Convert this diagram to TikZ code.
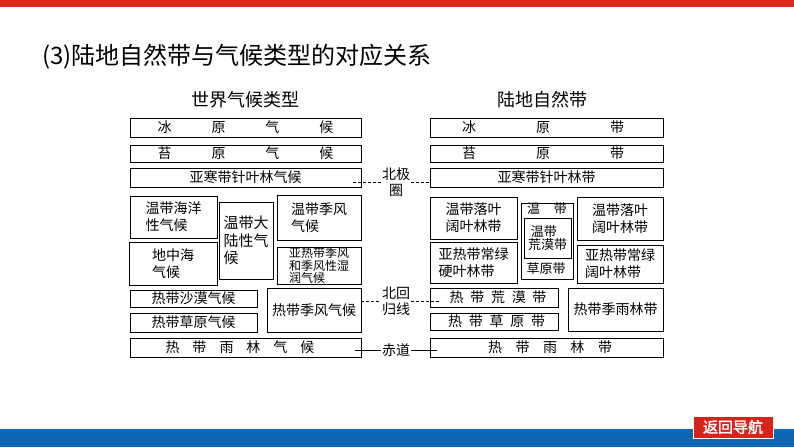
\documentclass[tikz,border=0pt]{standalone}
\usepackage{fontspec}
\setmainfont{Noto Sans CJK SC}
\newfontfamily\btnfont[FakeBold=2]{Noto Sans CJK SC}
\usetikzlibrary{calc}
\definecolor{topred}{RGB}{221,40,30}
\definecolor{barblue}{RGB}{12,104,182}
\definecolor{btnred}{RGB}{214,36,28}
\newcommand\mkbox[7]{\node[boxs,#6,minimum width={#4-#2},minimum height={#5-#3}] (#1) at ({(#2+#4)/2},{(#3+#5)/2}) {#7};}
\tikzset{
  boxs/.style={draw, line width=0.8pt, inner sep=0pt, align=left, font=\fontsize{14}{17}\selectfont},
  small/.style={font=\fontsize{12}{12.5}\selectfont},
  mid/.style={font=\fontsize{15}{17.5}\selectfont},
  gr/.style={font=\fontsize{13}{13.5}\selectfont},
  lat/.style={inner sep=1pt, align=center, font=\fontsize{14}{16}\selectfont},
  dsh/.style={line width=0.8pt, dash pattern=on 3pt off 2pt},
  sol/.style={line width=0.8pt},
  head/.style={font=\fontsize{18}{20}\selectfont}
}
\begin{document}
\begin{tikzpicture}[x=1pt,y=-1pt]
\useasboundingbox (0,0) rectangle (794,447);
\fill[topred] (0,0) rectangle (794,7);
\fill[barblue] (0,429) rectangle (794,447);
\node[btnred, fill=btnred, draw=white, line width=0.8pt, minimum width=80, minimum height=22, inner sep=0pt, text=white, font=\btnfont\fontsize{15}{15}\selectfont] (nav) at (733,427) {返回导航};

\node[anchor=west, inner sep=0pt, font=\fontsize{24}{26}\selectfont] (title) at (42,57) {(3)陆地自然带与气候类型的对应关系};

\node[head] (hl) at (245,100) {世界气候类型};
\node[head] (hr) at (542,100) {陆地自然带};

% left column
\mkbox{L1}{130}{118}{361}{137}{}{\makebox[176pt]{冰\hfill 原\hfill 气\hfill 候}}
\mkbox{L2}{130}{145}{361}{162}{}{\makebox[176pt]{苔\hfill 原\hfill 气\hfill 候}}
\mkbox{L3}{130}{168}{361}{187}{}{亚寒带针叶林气候}
\mkbox{L4}{130}{196}{217}{238}{}{温带海洋\\性气候}
\mkbox{L5}{219}{202}{273}{279}{mid}{温带大\\陆性气\\候}
\mkbox{L6}{277}{195}{361}{240}{}{温带季风\\气候}
\mkbox{L7}{129}{242}{217}{285}{}{地中海\\气候}
\mkbox{L8}{277}{247}{361}{284}{small}{亚热带季风\\和季风性湿\\润气候}
\mkbox{L9}{130}{290}{257}{307}{}{热带沙漠气候}
\mkbox{L10}{130}{313}{257}{332}{}{热带草原气候}
\mkbox{L11}{267}{288}{361}{332}{}{热带季风气候}
\mkbox{L12}{130}{338}{361}{357}{}{\makebox[149pt]{热\hfill 带\hfill 雨\hfill 林\hfill 气\hfill 候}\hspace{11pt}}

% right column
\mkbox{R1}{430}{118}{663}{137}{}{\makebox[162pt]{冰\hfill 原\hfill 带}\hspace{7pt}}
\mkbox{R2}{430}{145}{663}{162}{}{\makebox[162pt]{苔\hfill 原\hfill 带}\hspace{7pt}}
\mkbox{R3}{430}{168}{663}{187}{}{亚寒带针叶林带}
\mkbox{R4}{430}{197}{517}{239}{}{温带落叶\\阔叶林带}
\mkbox{R5}{521}{203}{573}{279}{}{}
\mkbox{R5i}{524}{218}{571}{258}{gr}{\ 温带\\荒漠带}
\node[gr, inner sep=0pt] (R5t) at (547,209) {\makebox[40pt]{温\hfill 带}};
\node[gr, inner sep=0pt] (R5b) at (546,269) {草原带};
\mkbox{R6}{577}{197}{663}{240}{}{温带落叶\\阔叶林带}
\mkbox{R7}{430}{242}{517}{283}{}{亚热带常绿\\硬叶林带}
\mkbox{R8}{577}{245}{663}{283}{}{亚热带常绿\\阔叶林带}
\mkbox{R9}{430}{288}{558}{307}{}{\hspace{8pt}\makebox[97pt]{热\hfill 带\hfill 荒\hfill 漠\hfill 带}}
\mkbox{R10}{430}{313}{558}{330}{}{\hspace{5pt}\makebox[97pt]{热\hfill 带\hfill 草\hfill 原\hfill 带}}
\mkbox{R11}{568}{288}{663}{331}{}{热带季雨林带}
\mkbox{R12}{430}{338}{663}{357}{}{\hspace{7pt}\makebox[124pt]{热\hfill 带\hfill 雨\hfill 林\hfill 带}}

% latitude labels
\node[lat] (bj) at (396,182) {北极\\圈};
\node[lat] (hg) at (396,301) {北回\\归线};
\node[lat] (cd) at (396,350) {赤道};

\draw[dsh] ($(L3.east |- bj)+(-8,0)$) -- (bj.west);
\draw[dsh] (bj.east) -- (R3.west |- bj);
\draw[dsh] (L11.east |- hg) -- (hg.west);
\draw[dsh] (hg.east) -- ($(R9.west |- hg)+(10,0)$);
\draw[sol] ($(L12.east |- cd)+(-6,0)$) -- (cd.west);
\draw[sol] (cd.east) -- ($(R12.west |- cd)+(7,0)$);
\end{tikzpicture}
\end{document}
